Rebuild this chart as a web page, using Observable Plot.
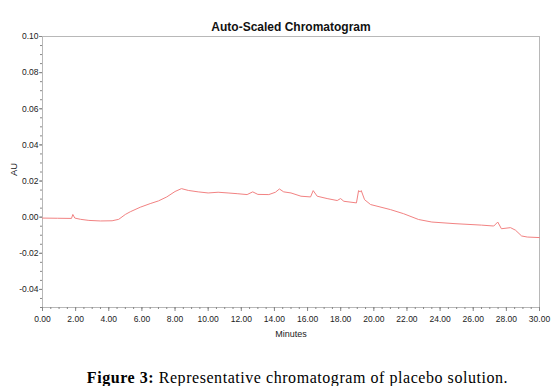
<!DOCTYPE html>
<html>
<head>
<meta charset="utf-8">
<script src="https://cdn.jsdelivr.net/npm/d3@7"></script>
<script src="https://cdn.jsdelivr.net/npm/@observablehq/plot@0.6"></script>
<style>
  html, body { margin: 0; padding: 0; background: #fff; }
  #wrap { position: relative; width: 555px; height: 386px; overflow: hidden; }
  #caption { position: absolute; left: 20px; width: 555px; top: 367px; height: 22px; line-height: 22px;
    text-align: center; font-family: "Liberation Serif", "Times New Roman", serif; font-size: 16px; letter-spacing: 0.55px; color: #000; white-space: nowrap; }
</style>
</head>
<body>
<div id="wrap"><div id="chart"></div><div id="caption"><b>Figure 3:</b> Representative chromatogram of placebo solution.</div></div>
<script>
// Retention time (minutes) and absorbance (AU)
const minutes = [0.0, 0.9, 1.75, 1.83, 1.95, 2.3, 2.8, 3.5, 4.2, 4.6, 5.0, 5.3, 5.9, 6.5, 7.0, 7.5, 8.0, 8.39, 8.8, 9.4,
  10.0, 10.6, 11.2, 11.75, 12.35, 12.69, 13.0, 13.66, 14.06, 14.3, 14.56, 15.0, 15.6, 16.18, 16.34, 16.58, 17.18, 17.79, 17.99, 18.19,
  18.95, 19.08, 19.17, 19.24, 19.44, 19.8, 21.0, 21.8, 22.7, 23.5, 24.9, 26.5, 27.24, 27.48, 27.7, 28.25, 28.55, 28.92, 29.26, 30.0];
const au = [-0.0005, -0.0006, -0.0007, 0.0015, -0.0005, -0.0012, -0.0018, -0.0021, -0.0020, -0.0012, 0.0015, 0.0030, 0.0055, 0.0075, 0.0090, 0.0112, 0.0142, 0.0158, 0.0148, 0.0140,
  0.0134, 0.0138, 0.0134, 0.0130, 0.0125, 0.0140, 0.0126, 0.0125, 0.0138, 0.0156, 0.0140, 0.0134, 0.0116, 0.0112, 0.0147, 0.0116, 0.0103, 0.0092, 0.0103, 0.0088,
  0.0079, 0.0147, 0.0140, 0.0147, 0.0097, 0.0070, 0.0042, 0.0019, -0.0013, -0.0027, -0.0036, -0.0044, -0.0049, -0.0027, -0.0064, -0.0058, -0.0072, -0.0104, -0.0110, -0.0113];

const xTicks = [0, 2, 4, 6, 8, 10, 12, 14, 16, 18, 20, 22, 24, 26, 28, 30];
const yTicks = [-0.04, -0.02, 0.00, 0.02, 0.04, 0.06, 0.08, 0.10];
const xDomain = [0, 30];
const yDomain = [-0.05, 0.10];
const xMinor = d3.range(0, 30.001, 0.5);
const yMinor = d3.range(-0.05, 0.1001, 0.005);

const data = minutes.map((t, i) => ({t, v: au[i]}));

const chart = Plot.plot({
  width: 555, height: 355,
  marginLeft: 42, marginRight: 16, marginTop: 36, marginBottom: 48,
  x: {domain: xDomain},
  y: {domain: yDomain},
  style: {fontFamily: "'Liberation Sans', Arial, sans-serif", fontSize: "8.5px", color: "#222", background: "#fff"},
  marks: [
    Plot.frame({stroke: "#b8b8b8"}),
    Plot.axisX({ticks: xMinor, tickSize: 2, tickFormat: () => "", stroke: "#888", label: null}),
    Plot.axisY({ticks: yMinor, tickSize: 2, tickFormat: () => "", stroke: "#888", label: null}),
    Plot.axisX({ticks: xTicks, tickSize: 4, tickPadding: 4, tickFormat: d => d.toFixed(2), stroke: "#888", fill: "#222", letterSpacing: "-0.4px", label: null}),
    Plot.axisY({ticks: yTicks, tickSize: 3, tickPadding: 1, tickFormat: d => d.toFixed(2), stroke: "#888", fill: "#222", letterSpacing: "-0.4px", label: null}),
    Plot.line(data, {x: "t", y: "v", stroke: "#f28282", strokeWidth: 1}),
    Plot.text(["Auto-Scaled Chromatogram"], {frameAnchor: "top", dy: -14, fontWeight: "bold", fontSize: 12, fill: "#111", letterSpacing: "-0.1px"}),
    Plot.text(["Minutes"], {frameAnchor: "bottom", dy: 29.5, fontSize: 9, fill: "#222"}),
    Plot.text(["AU"], {frameAnchor: "left", dx: -29, dy: 4, rotate: -90, fontSize: 9.5, fill: "#222"})
  ]
});
document.getElementById("chart").appendChild(chart);
</script>
</body>
</html>
